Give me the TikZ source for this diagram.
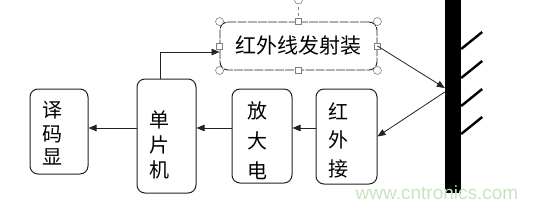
\documentclass[tikz,border=0pt]{standalone}
\usepackage{fontspec}
\newfontfamily\cjk{Noto Sans CJK SC}
\setsansfont{Liberation Sans}
\usetikzlibrary{arrows.meta, positioning, calc}
\definecolor{cline}{HTML}{222222}
\definecolor{chandle}{HTML}{7F7F7F}
\definecolor{cmark}{HTML}{C6E5BE}

\begin{document}
\begin{tikzpicture}[x=1pt, y=-1pt,
  box/.style={draw=cline, line width=1pt, rounded corners=8pt, inner sep=0pt,
    text width=34pt, align=left, font=\cjk\fontsize{20}{25}\selectfont},
  arr/.style={-{Triangle[length=8pt, width=6.5pt]}, line width=0.8pt, cline},
  hatch/.style={line width=2.4pt, black},
  circhandle/.style={draw=chandle, fill=white, line width=0.6pt, circle, minimum size=8pt, inner sep=0pt},
  sqhandle/.style={draw=chandle, fill=white, line width=0.6pt, minimum size=6pt, inner sep=0pt}
]
  \useasboundingbox (0,0) rectangle (539,209);

  % Reflecting wall
  \node[fill=black, minimum width=16pt, minimum height=193pt, inner sep=0pt] (wall) at (453,96.5) {};
  \foreach \yy in {49,78,106,134}
    \draw[hatch] (wall.east |- 0,\yy) -- ++(21,-17);

  % Infrared transmitter (selected)
  \node[draw=cline, line width=0.9pt, dash pattern=on 9pt off 1.2pt, rounded corners=8pt,
    minimum width=157pt, minimum height=48pt, inner sep=0pt,
    font=\cjk\fontsize{21}{21}\selectfont] (tx) at (298.5,46) {红外线发射装};

  % Selection handles
  \draw[chandle, dashed, line width=0.6pt] (tx.north) -- (298.5,0);
  \node[circhandle] (hrot) at (298.5,0) {};
  \foreach \aa in {north west, north east, south west, south east}
    \node[circhandle] at (tx.\aa) {};
  \foreach \aa in {north, south, west, east}
    \node[sqhandle] at (tx.\aa) {};

  % Receiving chain
  \node[box, minimum width=58pt, minimum height=85pt, font=\cjk\fontsize{20}{23.5}\selectfont] (dec) at (59,131.5)
    {\rule{0pt}{20pt}译\\码\\显};
  \node[box, minimum width=59pt, minimum height=114pt, text width=35pt] (mcu) at (166.5,136)
    {\rule{0pt}{35pt}单\\片\\机};
  \node[box, minimum width=60pt, minimum height=94pt, text width=30pt, font=\cjk\fontsize{20}{30}\selectfont] (amp) at (262,136)
    {\rule{0pt}{26pt}放\\大\\电};
  \node[box, minimum width=61pt, minimum height=95pt, text width=36pt, font=\cjk\fontsize{20}{28.5}\selectfont] (rx) at (346.5,136.5)
    {\rule{0pt}{24pt}红\\外\\接};

  % Arrows
  \coordinate (lvl) at (0,128);
  \draw[arr] ([xshift=-6pt]mcu.north) |- ([yshift=-6pt]tx.west);
  \draw[arr] (tx.east) -- ([yshift=8.5pt]wall.west);
  \draw[arr] ([yshift=4.5pt]wall.west) -- (rx.east);
  \draw[arr] (rx.west |- lvl) -- (amp.east |- lvl);
  \draw[arr] (amp.west |- lvl) -- (mcu.east |- lvl);
  \draw[arr] (mcu.west |- lvl) -- (dec.east |- lvl);

  % Watermark
  \node[text=cmark, font=\sffamily\fontsize{19}{19}\selectfont] (mark) at (437,193) {www.cntronics.com};
\end{tikzpicture}
\end{document}
